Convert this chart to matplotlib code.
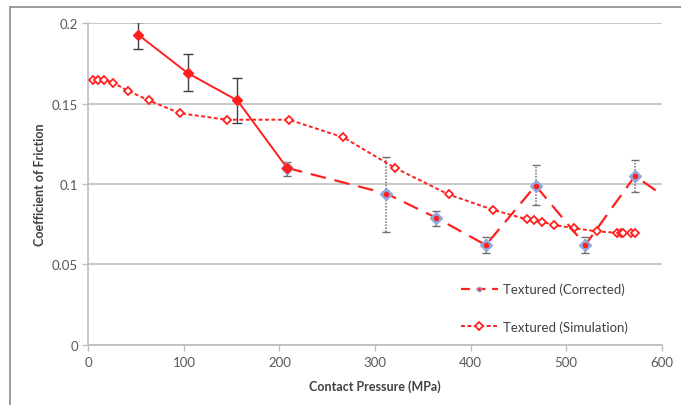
import matplotlib
matplotlib.use("Agg")
import matplotlib.pyplot as plt
from matplotlib.lines import Line2D

# Solid series (unlabeled in legend)
solid_x = [52, 104, 156, 208]
solid_y = [0.193, 0.169, 0.152, 0.110]
solid_err_lo = [0.009, 0.011, 0.014, 0.005]
solid_err_hi = [0.008, 0.012, 0.014, 0.005]

# Textured (Corrected)
corr_x = [208, 312, 364, 416, 468, 520, 572, 624]
corr_y = [0.110, 0.094, 0.079, 0.062, 0.099, 0.062, 0.105, 0.0835]
corr_err_lo = [0.005, 0.024, 0.005, 0.005, 0.012, 0.005, 0.010, 0.0]
corr_err_hi = [0.004, 0.023, 0.004, 0.005, 0.013, 0.005, 0.010, 0.0]

# Textured (Simulation)
sim_x = [5, 10.5, 16.5, 26, 41.5, 63.5, 96, 145, 210, 267, 321, 377, 423,
         459, 466, 475, 487, 508.5, 532, 553, 557, 560, 568, 572]
sim_y = [0.165, 0.165, 0.165, 0.163, 0.158, 0.152, 0.144, 0.140, 0.140, 0.129,
         0.110, 0.0935, 0.084, 0.078, 0.0775, 0.0765, 0.0745, 0.0725, 0.0705,
         0.0697, 0.0697, 0.0697, 0.0697, 0.0697]

x_ticks = [0, 100, 200, 300, 400, 500, 600]
y_ticks = [0, 0.05, 0.1, 0.15, 0.2]
y_tick_labels = ["0", "0.05", "0.1", "0.15", "0.2"]

RED = "#ff2020"
GRID = "#c8c8c8"
plt.rcParams['font.family'] = ['Lato', 'DejaVu Sans']

fig = plt.figure(figsize=(6.81, 4.06), dpi=100)
ax = fig.add_axes([88.3 / 681, (406 - 345.7) / 406, (661.7 - 88.3) / 681, (345.7 - 24.3) / 406])

# outer border (top and left)
fig.add_artist(Line2D([10 / 681, 10 / 681], [0, 1 - 8 / 406], transform=fig.transFigure,
                      color="#8a8a8a", lw=1.2))
fig.add_artist(Line2D([10 / 681, 1], [1 - 8 / 406, 1 - 8 / 406], transform=fig.transFigure,
                      color="#8a8a8a", lw=1.2))

# Simulation
ax.plot(sim_x, sim_y, color=RED, lw=1.4, linestyle=(0, (2, 1.3)), marker='D',
        markersize=4.3, markerfacecolor='white', markeredgecolor=RED, markeredgewidth=1.3,
        zorder=3)

# Corrected with dotted error bars
ax.plot(corr_x, corr_y, color=RED, lw=1.6, linestyle=(0, (7, 4)), zorder=3)
eb = ax.errorbar(corr_x[:-1], corr_y[:-1], yerr=[corr_err_lo[:-1], corr_err_hi[:-1]],
                 fmt='none', ecolor="#707070", elinewidth=1.1, capsize=3, capthick=1.0, zorder=4)
for lc in eb[2]:
    lc.set_linestyle((0, (1, 1)))
ax.plot(corr_x[:-1], corr_y[:-1], linestyle='none', marker='D', markersize=6,
        markerfacecolor="#8fa8e0", markeredgecolor="#8fa8e0", zorder=5)
ax.plot(corr_x[:-1], corr_y[:-1], linestyle='none', marker='o', markersize=3,
        markerfacecolor=RED, markeredgecolor=RED, zorder=6)

# Solid series
ax.plot(solid_x, solid_y, color=RED, lw=1.4, marker='D', markersize=5.5,
        markerfacecolor=RED, markeredgecolor=RED, zorder=5)
ax.errorbar(solid_x[:-1], solid_y[:-1], yerr=[solid_err_lo[:-1], solid_err_hi[:-1]],
            fmt='none', ecolor="#404040", elinewidth=1.0, capsize=3.5, capthick=1.0, zorder=4)

ax.set_xlim(0, 600)
ax.set_ylim(0, 0.2)
ax.set_xticks(x_ticks)
ax.set_yticks(y_ticks)
ax.set_yticklabels(y_tick_labels)
ax.grid(axis='y', color=GRID, lw=1.4)
ax.set_axisbelow(True)
for s in ['top', 'right']:
    ax.spines[s].set_visible(False)
for s in ['left', 'bottom']:
    ax.spines[s].set_color("#bfbfbf")
    ax.spines[s].set_linewidth(1.2)
ax.tick_params(axis='both', colors="#bfbfbf", labelcolor="#595959", labelsize=9.5,
               length=4, width=1)
ax.tick_params(axis='x', pad=4)
ax.set_xlabel("Contact Pressure (MPa)", fontsize=9, fontweight='bold', color="#404040", labelpad=8)
ax.set_ylabel("Coefficient of Friction", fontsize=9, fontweight='bold', color="#404040", labelpad=4)

h1 = Line2D([], [], color=RED, lw=1.6, linestyle=(0, (4, 3)), marker='o', markersize=3,
            markerfacecolor=RED, markeredgecolor="#8fa8e0")
h2 = Line2D([], [], color=RED, lw=1.4, linestyle=(0, (2, 1.3)), marker='D', markersize=4.3,
            markerfacecolor='white', markeredgecolor=RED, markeredgewidth=1.3)
leg = ax.legend([h1, h2], ["Textured (Corrected)", "Textured (Simulation)"],
                loc='upper left', bbox_to_anchor=(449 / 681, 1 - 272 / 406),
                bbox_transform=fig.transFigure, frameon=False, fontsize=9.5,
                handlelength=2.8, handletextpad=0.4, labelspacing=1.9)
for t in leg.get_texts():
    t.set_color("#404040")

fig.savefig("out.png", dpi=100)
